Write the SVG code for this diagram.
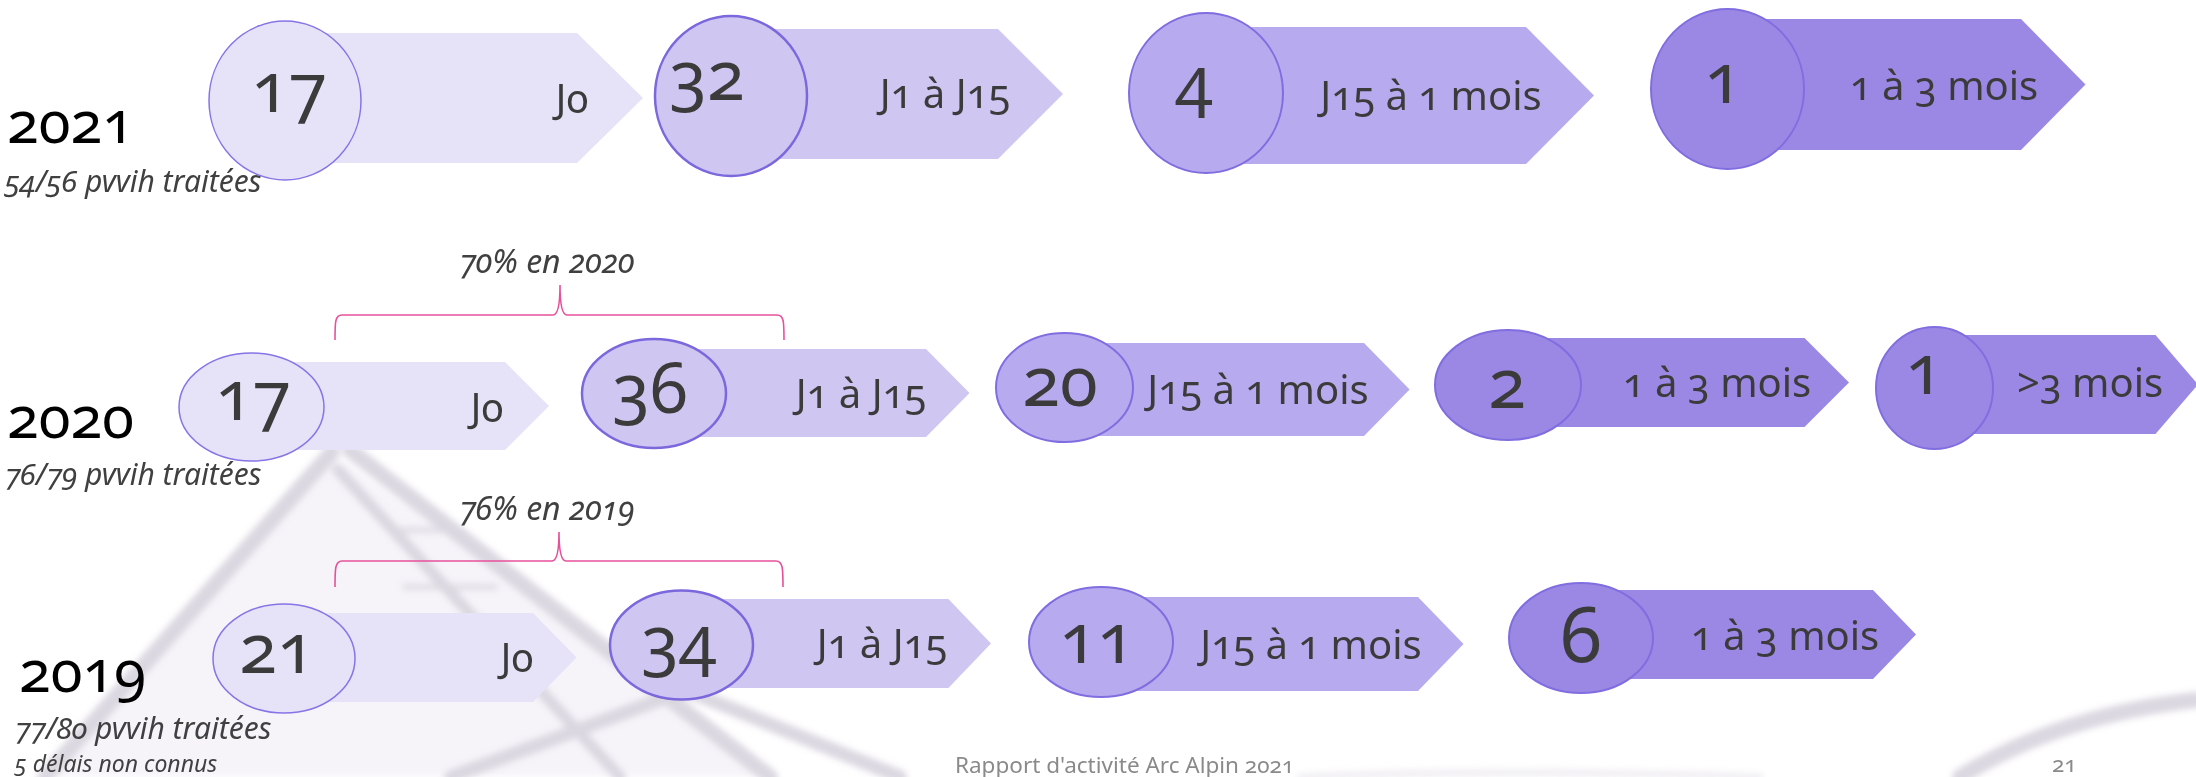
<svg xmlns="http://www.w3.org/2000/svg" width="2196" height="777" viewBox="0 0 2196 777">
<defs>
<filter id="blur" x="-10%" y="-10%" width="120%" height="120%"><feGaussianBlur stdDeviation="3"/></filter>
<style>
text{font-family:"Noto Sans","Open Sans","Liberation Sans",sans-serif;font-variant-numeric:oldstyle-nums;}
.c1{fill:#e6e2f8;}
.c2{fill:#cfc6f2;}
.c3{fill:#b8aaee;}
.c4{fill:#9b88e4;}
.e1{stroke:#8774e6;stroke-width:1.5;}
.e2{stroke:#7b68dd;stroke-width:2.5;}
.e3{stroke:#806de0;stroke-width:2;}
.num{font-size:69px;fill:#3b3b3b;text-anchor:middle;}
.lbl{font-size:40px;fill:#3b3b3b;text-anchor:middle;}
.yr{font-size:58px;fill:#000;}
.sub{font-size:30px;font-style:italic;fill:#404040;}
.pct{font-size:32px;font-style:italic;fill:#404040;text-anchor:middle;}
.foot{font-size:22.5px;fill:#8a8a8a;}
.brace{fill:none;stroke:#e8509c;stroke-width:1.6;}
.wm{fill:none;stroke:#d2ced9;stroke-linecap:round;}
</style>
</defs>
<rect width="2196" height="777" fill="#ffffff"/>
<g id="watermark" filter="url(#blur)" opacity="0.8">
<path d="M330,450 L40,777 L780,777 Z" fill="#f4f2f8" stroke="none"/>
<path class="wm" stroke-width="16" d="M332,452 L45,777"/>
<path class="wm" stroke-width="16" d="M350,450 L770,777"/>
<path class="wm" stroke-width="12" d="M338,470 L620,777"/>
<path class="wm" stroke-width="7" opacity="0.7" d="M392,530 L450,530 M405,587 L495,587"/>
<path class="wm" stroke-width="14" d="M451,777 L686,690 L900,777"/>
<path class="wm" stroke-width="16" d="M1960,777 Q2060,715 2196,700"/>
<path class="wm" stroke-width="7" opacity="0.45" d="M1300,777 Q1500,768 1760,777"/>
</g>
<g id="labels">
<text class="yr" x="7" y="143">2021</text>
<text class="sub" x="5" y="192">54/56 pvvih traitées</text>
<text class="yr" x="7" y="438">2020</text>
<text class="sub" x="5" y="485">76/79 pvvih traitées</text>
<text class="yr" x="19" y="692">2019</text>
<text class="sub" x="15" y="739">77/80 pvvih traitées</text>
<text class="sub" x="15" y="772" style="font-size:23px">5 délais non connus</text>
<text class="foot" x="955" y="773">Rapport d'activité Arc Alpin 2021</text>
<text class="foot" x="2052" y="772">21</text>
</g>
<g id="connectors">
<path class="brace" d="M335,340 C335,322 335,315 342,315 L553,315 C558,315 560,305 560,285 C560,305 562,315 567,315 L777,315 C784,315 784,322 784,340"/>
<path class="brace" d="M335,587 C335,569 335,561 342,561 L552,561 C557,561 559,551 559,532 C559,551 561,561 566,561 L776,561 C783,561 783,569 783,587"/>
</g>
<g id="pct2020"><text class="pct" x="547" y="273">70% en 2020</text></g>
<g id="pct2019"><text class="pct" x="547" y="520">76% en 2019</text></g>
<g id="r2021-j0">
<polygon class="c1" points="285,33 577,33 643,98 577,163 285,163"/>
<ellipse class="c1 e1" cx="285" cy="100.5" rx="76" ry="79.5"/>
<text class="num" x="289" y="112">17</text>
<text class="lbl" x="572" y="113">J0</text>
</g>
<g id="r2021-j1">
<polygon class="c2" points="731,29 998,29 1063,94 998,159 731,159"/>
<ellipse class="c2 e2" cx="731" cy="96" rx="76" ry="80"/>
<text class="num" x="707" y="100">32</text>
<text class="lbl" x="945" y="108">J1 à J15</text>
</g>
<g id="r2021-j15">
<polygon class="c3" points="1206,27 1526,27 1594,95.5 1526,164 1206,164"/>
<ellipse class="c3 e3" cx="1206" cy="93" rx="77" ry="80"/>
<text class="num" x="1194" y="106">4</text>
<text class="lbl" x="1431" y="110">J15 à 1 mois</text>
</g>
<g id="r2021-m1">
<polygon class="c4" points="1727,19 2021,19 2085.5,84.5 2021,150 1727,150"/>
<ellipse class="c4 e3" cx="1727.5" cy="89" rx="76.5" ry="80"/>
<text class="num" x="1723" y="103">1</text>
<text class="lbl" x="1944" y="100">1 à 3 mois</text>
</g>
<g id="r2020-j0">
<polygon class="c1" points="251,362 505,362 549,406 505,450 251,450"/>
<ellipse class="c1 e1" cx="251.5" cy="407" rx="72.5" ry="54"/>
<text class="num" x="253" y="420">17</text>
<text class="lbl" x="487" y="422">J0</text>
</g>
<g id="r2020-j1">
<polygon class="c2" points="654,349 926,349 969.5,393 926,437 654,437"/>
<ellipse class="c2 e2" cx="654" cy="393.5" rx="72" ry="54.5"/>
<text class="num" x="650" y="413">36</text>
<text class="lbl" x="861" y="408">J1 à J15</text>
</g>
<g id="r2020-j15">
<polygon class="c3" points="1064,343 1364,343 1409.6,389.5 1364,436 1064,436"/>
<ellipse class="c3 e3" cx="1064.5" cy="387.5" rx="68.5" ry="54.5"/>
<text class="num" x="1060" y="406">20</text>
<text class="lbl" x="1258" y="404">J15 à 1 mois</text>
</g>
<g id="r2020-m1">
<polygon class="c4" points="1508,338 1804.5,338 1849,382.5 1804.5,427 1508,427"/>
<ellipse class="c4 e3" cx="1508" cy="385" rx="73" ry="55"/>
<text class="num" x="1507" y="408">2</text>
<text class="lbl" x="1717" y="397">1 à 3 mois</text>
</g>
<g id="r2020-m3">
<polygon class="c4" points="1934,335 2155.5,335 2198,384.5 2155.5,434 1934,434"/>
<ellipse class="c4 e3" cx="1934.5" cy="388" rx="58.5" ry="61"/>
<text class="num" x="1924" y="394">1</text>
<text class="lbl" x="2090" y="397">&gt;3 mois</text>
</g>
<g id="r2019-j0">
<polygon class="c1" points="284,613 533,613 576.6,657.5 533,702 284,702"/>
<ellipse class="c1 e1" cx="284" cy="658.5" rx="71" ry="54.5"/>
<text class="num" x="277" y="673">21</text>
<text class="lbl" x="517" y="672">J0</text>
</g>
<g id="r2019-j1">
<polygon class="c2" points="681,599 948.4,599 991,643.5 948.4,688 681,688"/>
<ellipse class="c2 e2" cx="681.5" cy="645" rx="71.5" ry="54.5"/>
<text class="num" x="679" y="665">34</text>
<text class="lbl" x="882" y="658">J1 à J15</text>
</g>
<g id="r2019-j15">
<polygon class="c3" points="1101,597 1418,597 1463.5,644 1418,691 1101,691"/>
<ellipse class="c3 e3" cx="1101" cy="642" rx="72" ry="55"/>
<text class="num" x="1097" y="663">11</text>
<text class="lbl" x="1311" y="659">J15 à 1 mois</text>
</g>
<g id="r2019-m1">
<polygon class="c4" points="1581,590 1873,590 1916,634.5 1873,679 1581,679"/>
<ellipse class="c4 e3" cx="1581" cy="638" rx="72" ry="55"/>
<text class="num" x="1581" y="662" style="font-size:76px">6</text>
<text class="lbl" x="1785" y="650">1 à 3 mois</text>
</g>
</svg>
